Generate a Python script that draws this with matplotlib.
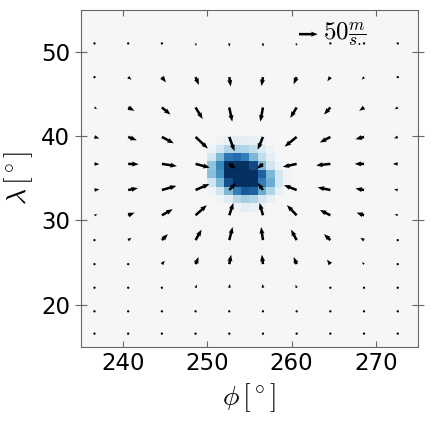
import numpy as np
import matplotlib
matplotlib.use("Agg")
import matplotlib.pyplot as plt

plt.rcParams['mathtext.fontset'] = 'cm'

# grid of the wind vectors
lon = [236.6, 240.6, 244.6, 248.6, 252.6, 256.6, 260.6, 264.6, 268.6, 272.6]
lat = [51.0, 47.0, 43.4, 39.9, 36.7, 33.6, 30.6, 27.65, 24.8, 22.0, 19.2, 16.55]

# wind components [m/s], one row per latitude (top to bottom)
u = [
    [0, 0, 1, 2, 0, 0, -2, -1, 0, 0],
    [1, 9, 11, 9, 4, -4, -8, -8, -6, -1],
    [7, 17, 23, 19, 8, -7, -17, -17, -13, -8],
    [13, 23, 32, 33, 14, -14, -32, -28, -23, -10],
    [13, 28, 40, 38, 18, -16, -37, -38, -25, -13],
    [13, 26, 39, 37, 18, -14, -34, -34, -23, -10],
    [8, 17, 29, 30, 11, -9, -26, -28, -20, -8],
    [2, 9, 16, 16, 9, -5, -15, -17, -10, -1],
    [1, 5, 8, 8, 5, -3, -8, -9, -6, -1],
    [0, 1, 3, 4, 2, -1, -3, -4, -1, 0],
    [0, 0, 1, 1, 1, 0, -1, -1, 0, 0],
    [0, 0, 0, 0, 0, 0, 0, 0, 0, 0],
]
v = [
    [0, -1, -3, -7, -9, -9, -7, -3, -1, 0],
    [-1, -7, -14, -21, -25, -24, -19, -11, -7, -1],
    [-4, -9, -19, -31, -38, -38, -28, -19, -9, -5],
    [-4, -9, -17, -31, -38, -34, -26, -15, -6, -4],
    [-1, -1, -6, -10, -13, -13, -8, -4, 0, 0],
    [2, 5, 11, 16, 19, 19, 13, 7, 4, 2],
    [2, 7, 16, 27, 33, 33, 27, 14, 7, 3],
    [1, 6, 16, 28, 35, 35, 28, 16, 6, 1],
    [1, 3, 9, 19, 25, 25, 19, 12, 5, 1],
    [0, 1, 3, 8, 10, 10, 8, 4, 1, 0],
    [0, 0, 1, 3, 4, 4, 3, 1, 0, 0],
    [0, 0, 0, 1, 1, 1, 1, 0, 0, 0],
]

# background field (normalised), blob of 1 deg cells
blob_lon0 = 250   # west edge of first column
blob_lat0 = 39    # south edge of first row (rows go southward)
blob = [
    [0, -0.04, -0.08, -0.1, -0.1, -0.08, -0.04, 0, 0, 0],
    [-0.06, -0.18, -0.3, -0.32, -0.3, -0.25, -0.15, -0.06, 0, 0],
    [-0.18, -0.45, -0.72, -0.78, -0.7, -0.45, -0.25, -0.1, 0, 0],
    [-0.4, -0.65, -1.0, -1.0, -1.0, -0.9, -0.45, -0.2, -0.06, 0],
    [-0.42, -0.6, -1.0, -1.0, -1.0, -1.0, -0.82, -0.45, -0.18, -0.04],
    [-0.2, -0.45, -0.88, -1.0, -1.0, -1.0, -0.7, -0.5, -0.18, -0.04],
    [-0.06, -0.2, -0.45, -0.7, -0.85, -0.82, -0.5, -0.3, -0.1, 0],
    [0, -0.04, -0.12, -0.28, -0.34, -0.3, -0.18, -0.08, 0, 0],
    [0, 0, 0, -0.06, -0.1, -0.08, -0.04, 0, 0, 0],
]
warm_box = (248, 262, 25, 32)
warm_value = 0.012

lon_edges = np.arange(235, 276)
lat_edges = np.arange(15, 56)
field = np.zeros((len(lat_edges) - 1, len(lon_edges) - 1))
field[warm_box[2] - 15:warm_box[3] - 15, warm_box[0] - 235:warm_box[1] - 235] = warm_value
for i, row in enumerate(blob):
    j0 = blob_lat0 - i - 15
    field[j0, blob_lon0 - 235:blob_lon0 - 235 + len(row)] = row

fig = plt.figure(figsize=(4.32, 4.23), dpi=100)
ax = fig.add_axes([0.1875, 0.1797, 0.780, 0.798])

ax.pcolormesh(lon_edges, lat_edges, field, cmap='RdBu_r', vmin=-1, vmax=1)

LON, LAT = np.meshgrid(lon, lat)
q = ax.quiver(LON, LAT, np.array(u, float), np.array(v, float),
              angles='xy', scale_units='xy', scale=22.5, color='k',
              width=0.0075, headwidth=2.0, headlength=2.6, headaxislength=2.4)
ax.quiverkey(q, 263.1, 52.1, 50, r'$50\frac{m}{s.}$', labelpos='E',
             coordinates='data', labelsep=0.05, fontproperties={'size': 18})

ax.set_xlim(235, 275)
ax.set_ylim(15, 55)
ax.set_aspect('equal')
ax.set_xticks([240, 250, 260, 270])
ax.set_yticks([20, 30, 40, 50])
ax.tick_params(top=True, right=True, color='0.4', labelsize=16.5, pad=4)
ax.tick_params(axis='x', direction='in', length=4)
ax.tick_params(axis='y', direction='inout', length=8)
for s in ax.spines.values():
    s.set_color('0.4')

ax.set_xlabel(r'$\phi\,[^\circ]$', fontsize=20)
ax.set_ylabel(r'$\lambda\,[^\circ]$', fontsize=20)

fig.savefig('out.png', dpi=100)
